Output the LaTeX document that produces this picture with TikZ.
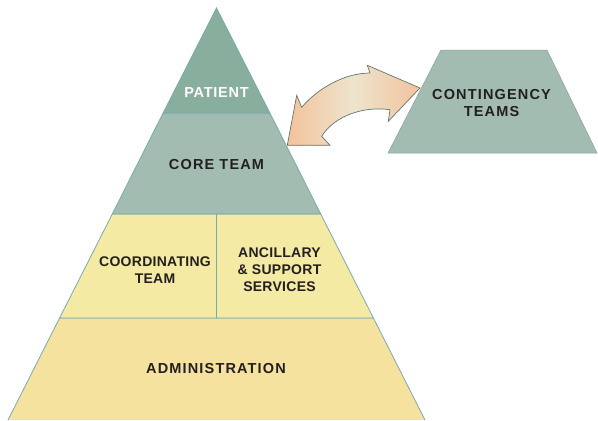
\documentclass[tikz,border=0pt]{standalone}
\usepackage{fontspec}
\setmainfont{Liberation Sans}
\newfontfamily\lblfont[LetterSpace=8]{Liberation Sans}
\newfontfamily\lblfontp[LetterSpace=5]{Liberation Sans}
\newfontfamily\lblfontn[LetterSpace=2]{Liberation Sans}
\definecolor{patientc}{HTML}{88AE9E}
\definecolor{corec}{HTML}{A3BCB2}
\definecolor{midc}{HTML}{F5EAA3}
\definecolor{adminc}{HTML}{F5E29E}
\definecolor{edgec}{HTML}{7AAAAE}
\definecolor{txtc}{HTML}{231F20}
\definecolor{peach}{HTML}{F2C39C}
\definecolor{cream}{HTML}{EEE4CD}
\definecolor{arrowline}{HTML}{62766E}
\definecolor{contc}{HTML}{A3BCB2}
\begin{document}
\begin{tikzpicture}[x=1bp,y=-1bp,
  layer/.style={draw=edgec, line width=0.8bp, line join=miter},
  lbl/.style={font=\lblfont\bfseries\fontsize{14.5bp}{17bp}\selectfont, text=txtc, align=center, inner sep=0pt},
  lbln/.style={font=\lblfontn\bfseries\fontsize{14bp}{17bp}\selectfont, text=txtc, align=center, inner sep=0pt},
  wlbl/.style={font=\lblfontp\bfseries\fontsize{14.5bp}{17bp}\selectfont, text=white, align=center, inner sep=0pt},
  bigarrow/.style={draw=arrowline, line width=0.7bp, line join=miter, left color=peach, right color=peach, middle color=cream}
]
\useasboundingbox (0,0) rectangle (598,420);
% pyramid levels
\coordinate (apex) at (216.5,8);
\coordinate (l1) at (163.1,113);   \coordinate (r1) at (269.9,113);
\coordinate (l2) at (112.3,214);   \coordinate (r2) at (320.7,214);
\coordinate (l3) at (59.6,318);    \coordinate (r3) at (373.4,318);
\coordinate (l4) at (8,420);       \coordinate (r4) at (425,420);
\coordinate (m2) at (216.5,214);   \coordinate (m3) at (216.5,318);
% administration
\fill[adminc] (l3) -- (r3) -- (r4) -- (l4) -- cycle;
\draw[layer] (l4) -- (l3) -- (r3) -- (r4);
% coordinating / ancillary
\filldraw[layer, fill=midc] (l2) -- (m2) -- (m3) -- (l3) -- cycle;
\filldraw[layer, fill=midc] (m2) -- (r2) -- (r3) -- (m3) -- cycle;
% core team
\filldraw[layer, fill=corec] (l1) -- (r1) -- (r2) -- (l2) -- cycle;
% patient
\filldraw[layer, fill=patientc] (apex) -- (r1) -- (l1) -- cycle;
% contingency teams
\filldraw[draw=corec!85!black, line width=0.5bp, fill=contc] (441,50) -- (547,50) -- (597,153) -- (388,153) -- cycle;
% curved double arrow
\coordinate (ltip) at (287.3,145.3);
\coordinate (rtip) at (420,88);
\path[bigarrow] (ltip) -- (296.7,95.3) -- (301.7,107.3)
  .. controls (318,88) and (345,73) .. (370,73)
  -- (367.3,65.3) -- (rtip) -- (388.3,121.3) -- (390,109.7)
  .. controls (365,106) and (335,115) .. (321.7,136.3)
  -- (330,145.3) -- cycle;
% labels
\node[wlbl] (patient) at (216.5,92.5) {PATIENT};
\node[lbl] (core) at (216.5,165) {CORE TEAM};
\node[lbln] (coord) at (155,270) {COORDINATING\\TEAM};
\node[lbln] (ancil) at (279.5,270) {ANCILLARY\\\&{} SUPPORT\\SERVICES};
\node[lbl] (admin) at (216,368.5) {ADMINISTRATION};
\node[lbl] (cont) at (491.5,103.3) {CONTINGENCY\\TEAMS};
\end{tikzpicture}
\end{document}
